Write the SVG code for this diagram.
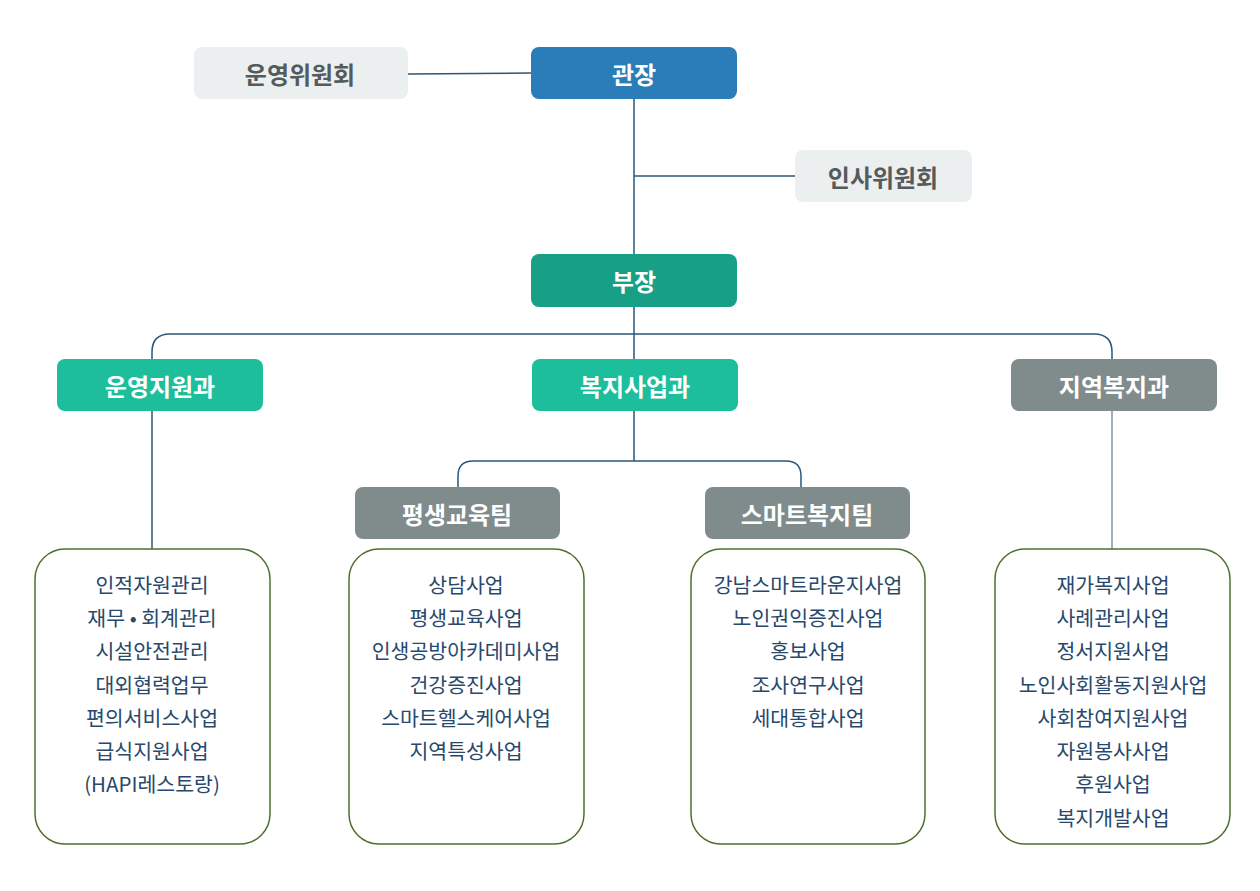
<svg xmlns="http://www.w3.org/2000/svg" width="1260" height="891" viewBox="0 0 1260 891">
  <style>
    .box { stroke: none; }
    .title { font-family: "Noto Sans CJK KR", "Noto Sans", sans-serif; font-size: 24px; font-weight: bold; text-anchor: middle; dominant-baseline: central; }
    .w { fill: #ffffff; }
    .g { fill: #555a5c; }
    .list { fill: #ffffff; stroke: #4d7030; stroke-width: 1.5; }
    .item { font-family: "Noto Sans CJK KR", "Noto Sans", sans-serif; font-size: 20.5px; fill: #28496c; text-anchor: middle; dominant-baseline: central; }
    .conn { fill: none; stroke: #2c5678; stroke-width: 1.5; }
  </style>

  <!-- connectors -->
  <g id="connectors">
    <path class="conn" d="M408 74 L531 73"/>
    <path class="conn" d="M634 99 L634 254"/>
    <path class="conn" d="M634 176 L795 176"/>
    <path class="conn" d="M634 307 L634 359"/>
    <path class="conn" d="M152 359 L152 352 Q152 334 170 334 L1094 334 Q1112 334 1112 352 L1112 359"/>
    <path class="conn" d="M152 411 L152 549"/>
    <path class="conn" d="M634 411 L634 461"/>
    <path class="conn" d="M458 487 L458 476 Q458 461 473 461 L786 461 Q801 461 801 476 L801 487"/>
    <path class="conn" d="M1112 411 L1112 549" style="stroke:#7f95a8"/>
  </g>

  <g id="operating-committee">
    <rect class="box" x="194" y="47" width="214" height="52" rx="8" fill="#eceff0"/>
    <text class="title g" x="300" y="73">운영위원회</text>
  </g>
  <g id="director">
    <rect class="box" x="531" y="47" width="206" height="52" rx="8" fill="#2a7db8"/>
    <text class="title w" x="634" y="73">관장</text>
  </g>
  <g id="personnel-committee">
    <rect class="box" x="795" y="150" width="177" height="52" rx="8" fill="#eceff0"/>
    <text class="title g" x="883" y="176">인사위원회</text>
  </g>
  <g id="deputy">
    <rect class="box" x="531" y="254" width="206" height="53" rx="8" fill="#18a086"/>
    <text class="title w" x="634" y="280">부장</text>
  </g>

  <g id="dept-operations">
    <rect class="box" x="57" y="359" width="206" height="52" rx="8" fill="#1dbe9b"/>
    <text class="title w" x="160" y="385">운영지원과</text>
  </g>
  <g id="dept-welfare">
    <rect class="box" x="532" y="359" width="206" height="52" rx="8" fill="#1dbe9b"/>
    <text class="title w" x="635" y="385">복지사업과</text>
  </g>
  <g id="dept-community">
    <rect class="box" x="1011" y="359" width="206" height="52" rx="8" fill="#808b8b"/>
    <text class="title w" x="1114" y="385">지역복지과</text>
  </g>

  <g id="team-lifelong">
    <rect class="box" x="355" y="487" width="205" height="52" rx="8" fill="#808b8b"/>
    <text class="title w" x="457" y="513">평생교육팀</text>
  </g>
  <g id="team-smart">
    <rect class="box" x="705" y="487" width="205" height="52" rx="8" fill="#808b8b"/>
    <text class="title w" x="807" y="513">스마트복지팀</text>
  </g>

  <g id="list-operations">
    <rect class="list" x="35" y="549" width="235" height="295" rx="30"/>
    <text class="item" x="152" y="584">인적자원관리</text>
    <text class="item" x="152" y="617">재무 • 회계관리</text>
    <text class="item" x="152" y="650">시설안전관리</text>
    <text class="item" x="152" y="684">대외협력업무</text>
    <text class="item" x="152" y="717">편의서비스사업</text>
    <text class="item" x="152" y="750">급식지원사업</text>
    <text class="item" x="152" y="783">(HAPI레스토랑)</text>
  </g>
  <g id="list-lifelong">
    <rect class="list" x="349" y="549" width="235" height="295" rx="30"/>
    <text class="item" x="466" y="584">상담사업</text>
    <text class="item" x="466" y="617">평생교육사업</text>
    <text class="item" x="466" y="650">인생공방아카데미사업</text>
    <text class="item" x="466" y="684">건강증진사업</text>
    <text class="item" x="466" y="717">스마트헬스케어사업</text>
    <text class="item" x="466" y="750">지역특성사업</text>
  </g>
  <g id="list-smart">
    <rect class="list" x="691" y="549" width="234" height="295" rx="30"/>
    <text class="item" x="808" y="584">강남스마트라운지사업</text>
    <text class="item" x="808" y="617">노인권익증진사업</text>
    <text class="item" x="808" y="650">홍보사업</text>
    <text class="item" x="808" y="684">조사연구사업</text>
    <text class="item" x="808" y="717">세대통합사업</text>
  </g>
  <g id="list-community">
    <rect class="list" x="995" y="549" width="235" height="295" rx="30"/>
    <text class="item" x="1113" y="584">재가복지사업</text>
    <text class="item" x="1113" y="617">사례관리사업</text>
    <text class="item" x="1113" y="650">정서지원사업</text>
    <text class="item" x="1113" y="684">노인사회활동지원사업</text>
    <text class="item" x="1113" y="717">사회참여지원사업</text>
    <text class="item" x="1113" y="750">자원봉사사업</text>
    <text class="item" x="1113" y="783">후원사업</text>
    <text class="item" x="1113" y="817">복지개발사업</text>
  </g>
</svg>
